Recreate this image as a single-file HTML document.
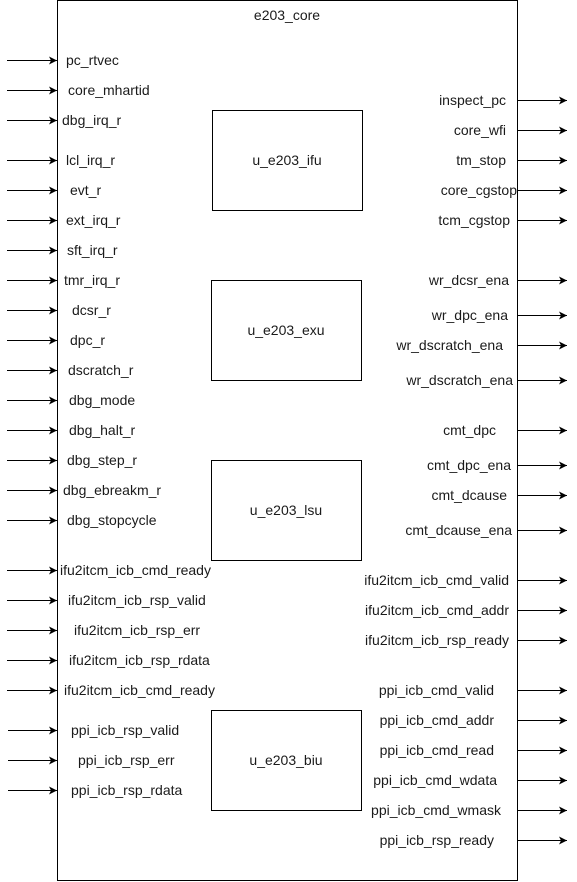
<!DOCTYPE html>
<html><head><meta charset="utf-8"><style>
html,body{margin:0;padding:0;background:#fff;width:577px;height:882px;overflow:hidden}
text{font-family:"Liberation Sans",Arial,sans-serif;font-size:14px;fill:#1a1a1a;dominant-baseline:central}
</style></head><body>
<svg width="577" height="882" viewBox="0 0 577 882" xmlns="http://www.w3.org/2000/svg">
<defs><marker id="a" markerWidth="9" markerHeight="9" refX="8" refY="4.5" orient="auto" markerUnits="userSpaceOnUse"><path d="M0,0.5 L8,4.5 L0,8.5 L2,4.5 z" fill="#000"/></marker></defs>
<rect x="57.5" y="0.5" width="460" height="880" fill="#fff" stroke="#000"/>
<text x="287" y="15" text-anchor="middle">e203_core</text>
<g fill="none" stroke="#000">
<rect x="212.5" y="110.5" width="150" height="100"/>
<rect x="211.5" y="280.5" width="150" height="100"/>
<rect x="211.5" y="460.5" width="150" height="100"/>
<rect x="211.5" y="710.5" width="150" height="100"/>
</g>
<text x="287" y="160" text-anchor="middle">u_e203_ifu</text>
<text x="286" y="330" text-anchor="middle">u_e203_exu</text>
<text x="286" y="510" text-anchor="middle">u_e203_lsu</text>
<text x="286" y="760" text-anchor="middle">u_e203_biu</text>
<g stroke="#000" stroke-width="1" marker-end="url(#a)">
<line x1="7" y1="60.5" x2="57" y2="60.5"/><line x1="7" y1="90.5" x2="57" y2="90.5"/><line x1="7" y1="120.5" x2="57" y2="120.5"/>
<line x1="7" y1="160.5" x2="57" y2="160.5"/><line x1="7" y1="190.5" x2="57" y2="190.5"/><line x1="7" y1="220.5" x2="57" y2="220.5"/>
<line x1="7" y1="250.5" x2="57" y2="250.5"/><line x1="7" y1="280.5" x2="57" y2="280.5"/><line x1="7" y1="310.5" x2="57" y2="310.5"/>
<line x1="7" y1="340.5" x2="57" y2="340.5"/><line x1="7" y1="370.5" x2="57" y2="370.5"/><line x1="7" y1="400.5" x2="57" y2="400.5"/>
<line x1="7" y1="430.5" x2="57" y2="430.5"/><line x1="7" y1="460.5" x2="57" y2="460.5"/><line x1="7" y1="490.5" x2="57" y2="490.5"/>
<line x1="7" y1="520.5" x2="57" y2="520.5"/><line x1="7" y1="570.5" x2="57" y2="570.5"/><line x1="7" y1="600.5" x2="57" y2="600.5"/>
<line x1="7" y1="630.5" x2="57" y2="630.5"/><line x1="7" y1="660.5" x2="57" y2="660.5"/><line x1="7" y1="690.5" x2="57" y2="690.5"/>
<line x1="8" y1="730.5" x2="57" y2="730.5"/><line x1="8" y1="760.5" x2="57" y2="760.5"/><line x1="8" y1="790.5" x2="57" y2="790.5"/>
<line x1="518" y1="100.5" x2="567" y2="100.5"/><line x1="518" y1="130.5" x2="567" y2="130.5"/><line x1="518" y1="160.5" x2="567" y2="160.5"/>
<line x1="518" y1="190.5" x2="567" y2="190.5"/><line x1="518" y1="220.5" x2="567" y2="220.5"/><line x1="518" y1="280.5" x2="567" y2="280.5"/>
<line x1="518" y1="315.5" x2="567" y2="315.5"/><line x1="518" y1="345.5" x2="567" y2="345.5"/><line x1="518" y1="380.5" x2="567" y2="380.5"/>
<line x1="518" y1="430.5" x2="567" y2="430.5"/><line x1="518" y1="465.5" x2="567" y2="465.5"/><line x1="518" y1="495.5" x2="567" y2="495.5"/>
<line x1="518" y1="530.5" x2="567" y2="530.5"/><line x1="518" y1="580.5" x2="567" y2="580.5"/><line x1="518" y1="610.5" x2="567" y2="610.5"/>
<line x1="518" y1="640.5" x2="567" y2="640.5"/><line x1="518" y1="690.5" x2="567" y2="690.5"/><line x1="518" y1="720.5" x2="567" y2="720.5"/>
<line x1="518" y1="750.5" x2="567" y2="750.5"/><line x1="518" y1="780.5" x2="567" y2="780.5"/><line x1="518" y1="810.5" x2="567" y2="810.5"/>
<line x1="518" y1="840.5" x2="567" y2="840.5"/>
</g>
<text x="66" y="60">pc_rtvec</text>
<text x="68" y="90">core_mhartid</text>
<text x="62" y="120">dbg_irq_r</text>
<text x="66" y="160">lcl_irq_r</text>
<text x="70" y="190">evt_r</text>
<text x="66" y="220">ext_irq_r</text>
<text x="67" y="250">sft_irq_r</text>
<text x="64" y="280">tmr_irq_r</text>
<text x="72" y="310">dcsr_r</text>
<text x="70" y="340">dpc_r</text>
<text x="68" y="370">dscratch_r</text>
<text x="69" y="400">dbg_mode</text>
<text x="69" y="430">dbg_halt_r</text>
<text x="67" y="460">dbg_step_r</text>
<text x="63" y="490">dbg_ebreakm_r</text>
<text x="67" y="520">dbg_stopcycle</text>
<text x="60" y="570">ifu2itcm_icb_cmd_ready</text>
<text x="68" y="600">ifu2itcm_icb_rsp_valid</text>
<text x="74" y="630">ifu2itcm_icb_rsp_err</text>
<text x="69" y="660">ifu2itcm_icb_rsp_rdata</text>
<text x="64" y="690">ifu2itcm_icb_cmd_ready</text>
<text x="71" y="730">ppi_icb_rsp_valid</text>
<text x="78" y="760">ppi_icb_rsp_err</text>
<text x="71" y="790">ppi_icb_rsp_rdata</text>
<g text-anchor="end">
<text x="506" y="100">inspect_pc</text>
<text x="506" y="130">core_wfi</text>
<text x="506" y="160">tm_stop</text>
<text x="517" y="190">core_cgstop</text>
<text x="510" y="220">tcm_cgstop</text>
<text x="509" y="280">wr_dcsr_ena</text>
<text x="508" y="315">wr_dpc_ena</text>
<text x="503" y="345">wr_dscratch_ena</text>
<text x="513" y="380">wr_dscratch_ena</text>
<text x="496" y="430">cmt_dpc</text>
<text x="511" y="465">cmt_dpc_ena</text>
<text x="507" y="495">cmt_dcause</text>
<text x="512" y="530">cmt_dcause_ena</text>
<text x="509" y="580">ifu2itcm_icb_cmd_valid</text>
<text x="509" y="610">ifu2itcm_icb_cmd_addr</text>
<text x="509" y="640">ifu2itcm_icb_rsp_ready</text>
<text x="494" y="690">ppi_icb_cmd_valid</text>
<text x="494" y="720">ppi_icb_cmd_addr</text>
<text x="494" y="750">ppi_icb_cmd_read</text>
<text x="497" y="780">ppi_icb_cmd_wdata</text>
<text x="501" y="810">ppi_icb_cmd_wmask</text>
<text x="494" y="840">ppi_icb_rsp_ready</text>
</g>
</svg>
</body></html>
